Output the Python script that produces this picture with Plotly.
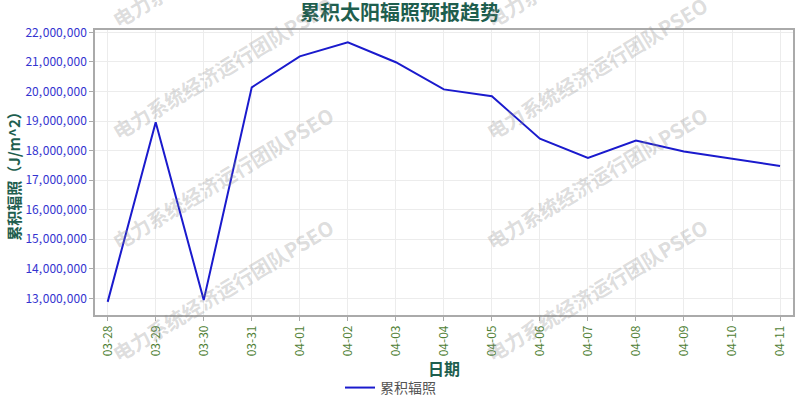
import plotly.graph_objects as go

dates = ["03-28", "03-29", "03-30", "03-31", "04-01", "04-02", "04-03", "04-04",
         "04-05", "04-06", "04-07", "04-08", "04-09", "04-10", "04-11"]
irradiance = [12880000, 18960000, 12940000, 20140000, 21190000, 21660000, 20990000, 20070000,
              19840000, 18400000, 17750000, 18340000, 17970000, 17730000, 17480000]
ytick_vals = [13000000, 14000000, 15000000, 16000000, 17000000, 18000000, 19000000,
              20000000, 21000000, 22000000]
ytick_text = ["13,\u200a000,\u200a000", "14,\u200a000,\u200a000", "15,\u200a000,\u200a000",
              "16,\u200a000,\u200a000", "17,\u200a000,\u200a000", "18,\u200a000,\u200a000",
              "19,\u200a000,\u200a000", "20,\u200a000,\u200a000", "21,\u200a000,\u200a000",
              "22,\u200a000,\u200a000"]

CJK = "Noto Sans CJK SC"
GREEN = "#1e5e4e"

fig = go.Figure()
fig.add_trace(go.Scatter(
    x=list(range(len(dates))), y=irradiance, mode="lines", name="累积辐照",
    line=dict(color="#1a1acd", width=2),
))

# watermarks
L, R, T, B = 95, 7, 30, 85
W, H = 800, 400
pw, ph = W - L - R, H - T - B
wm_centers = [(222, -44), (222, 68), (222, 178), (222, 290),
              (596, -44), (596, 68), (596, 178), (596, 290)]
ann = []
for cx, cy in wm_centers:
    ann.append(dict(
        text="电力系统经济运行团队PSEO", xref="paper", yref="paper",
        x=(cx - L) / pw, y=(H - B - cy) / ph, xanchor="center", yanchor="middle",
        showarrow=False, textangle=-31,
        font=dict(family=CJK, size=20, color="rgba(140,140,140,0.30)", weight="bold"),
    ))

fig.update_layout(
    width=W, height=H,
    margin=dict(l=L, r=R, t=T, b=B, autoexpand=False),
    paper_bgcolor="white", plot_bgcolor="white",
    title=dict(text="累积太阳辐照预报趋势", x=0.5, xanchor="center", y=0.968, yanchor="middle",
               font=dict(family=CJK, size=20, color=GREEN, weight="bold")),
    showlegend=True,
    legend=dict(orientation="h", x=(340 - L) / pw, xanchor="left", y=-0.256, yanchor="middle",
                font=dict(family=CJK, size=14, color="#555555"), itemwidth=30),
    annotations=ann,
    xaxis=dict(
        range=[-0.264, 14.27], tickmode="array", tickvals=list(range(len(dates))), ticktext=dates,
        tickangle=-90, tickfont=dict(family=CJK, size=12, color="#4f7f35"),
        showgrid=True, gridcolor="#ececec", gridwidth=1,
        showline=True, linecolor="#aaaaaa", linewidth=1.5, mirror=True,
        ticks="outside", ticklen=4, tickcolor="#aaaaaa", zeroline=False, automargin=False,
        title=dict(text="日期", font=dict(family=CJK, size=16, color=GREEN, weight="bold"), standoff=1),
    ),
    yaxis=dict(
        range=[12436000, 22080000], tickmode="array", tickvals=ytick_vals, ticktext=ytick_text,
        tickfont=dict(family=CJK, size=12, color="#3434d0"),
        showgrid=True, gridcolor="#ececec", gridwidth=1,
        showline=True, linecolor="#aaaaaa", linewidth=1.5, mirror=True,
        ticks="outside", ticklen=4, tickcolor="#aaaaaa", zeroline=False, automargin=False,
        title=dict(text="累积辐照（J/m^2）", font=dict(family=CJK, size=15, color=GREEN, weight="bold"), standoff=1),
    ),
)

fig.write_html("out.html", post_script="document.body.style.margin='0px';",
               config={"displayModeBar": False})
